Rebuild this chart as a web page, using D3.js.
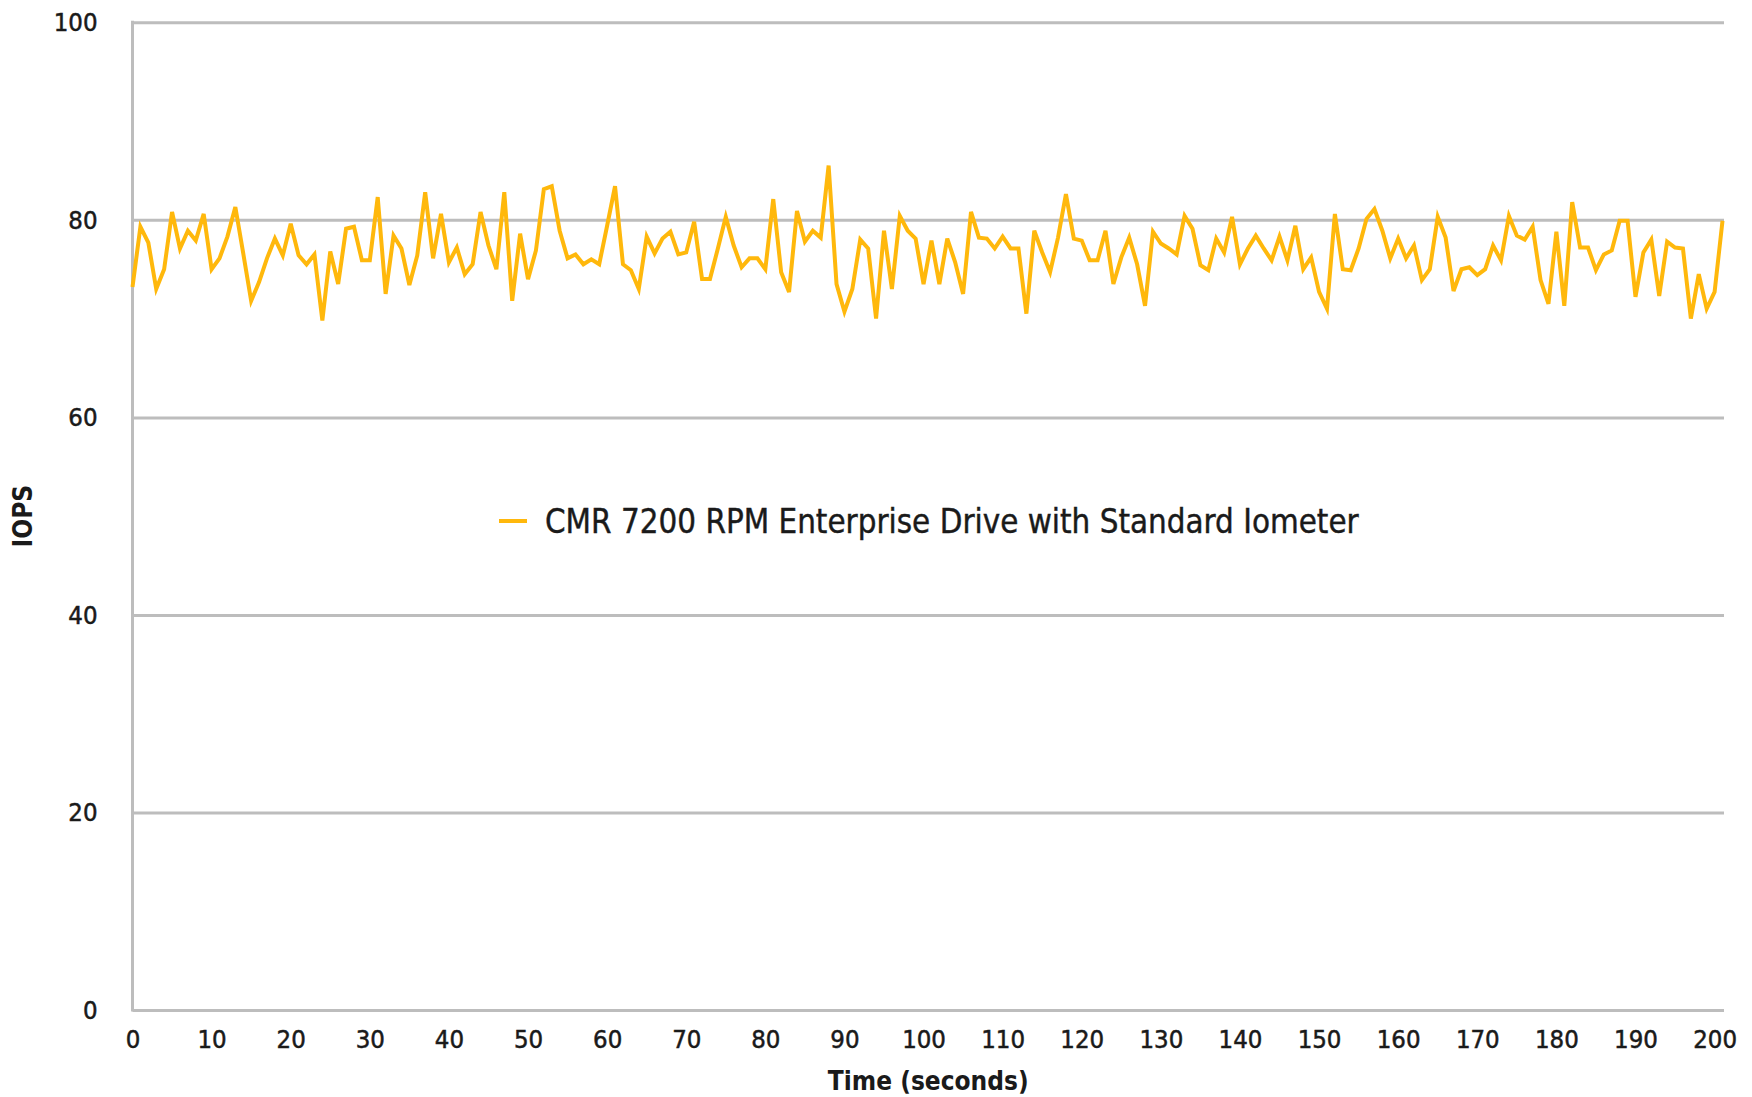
<!DOCTYPE html>
<html>
<head>
<meta charset="utf-8">
<script src="https://cdn.jsdelivr.net/npm/d3@7"></script>
<style>
  html, body { margin: 0; padding: 0; background: #ffffff; }
  svg { display: block; }
  text { font-family: "DejaVu Sans Condensed", "DejaVu Sans", "Liberation Sans Narrow", sans-serif; font-stretch: condensed; fill: #1a1a1a; }
</style>
</head>
<body>
<svg id="chart" width="1752" height="1097"></svg>
<script>
// ---- data ----
const seriesName = "CMR 7200 RPM Enterprise Drive with Standard Iometer";
const iops = [
  73.2, 79.3, 77.7, 73.0, 75.0, 80.8, 77.1, 78.9, 77.9, 80.6,
  75.0, 76.1, 78.3, 81.3, 76.6, 71.8, 73.7, 76.1, 78.1, 76.4,
  79.6, 76.4, 75.5, 76.5, 69.8, 76.8, 73.5, 79.1, 79.3, 75.9,
  75.9, 82.3, 72.5, 78.4, 77.1, 73.4, 76.4, 82.8, 76.1, 80.6,
  75.7, 77.2, 74.5, 75.5, 80.8, 77.4, 75.0, 82.8, 71.8, 78.6,
  74.0, 76.9, 83.1, 83.4, 78.9, 76.1, 76.5, 75.5, 76.0, 75.5,
  79.4, 83.4, 75.5, 74.9, 73.0, 78.3, 76.6, 78.1, 78.8, 76.5,
  76.7, 79.8, 74.0, 74.0, 77.1, 80.3, 77.4, 75.2, 76.1, 76.1,
  75.0, 82.1, 74.7, 72.7, 80.9, 77.8, 78.9, 78.2, 85.5, 73.5,
  70.7, 73.0, 78.0, 77.1, 70.0, 78.9, 73.0, 80.4, 78.9, 78.1,
  73.5, 77.9, 73.5, 78.1, 75.7, 72.5, 80.8, 78.2, 78.1, 77.1,
  78.3, 77.1, 77.1, 70.5, 78.9, 76.7, 74.7, 78.2, 82.6, 78.1,
  77.9, 75.9, 75.9, 78.9, 73.5, 76.2, 78.2, 75.5, 71.3, 78.8,
  77.6, 77.1, 76.5, 80.4, 79.1, 75.4, 74.9, 78.1, 76.7, 80.3,
  75.5, 77.1, 78.4, 77.1, 75.9, 78.3, 75.9, 79.4, 75.0, 76.2,
  72.7, 71.0, 80.6, 75.0, 74.9, 77.1, 80.1, 81.1, 78.9, 76.1,
  78.1, 76.1, 77.4, 73.9, 75.0, 80.3, 78.2, 72.8, 75.0, 75.2,
  74.4, 75.0, 77.4, 75.9, 80.4, 78.4, 78.0, 79.3, 73.9, 71.5,
  78.8, 71.3, 81.8, 77.2, 77.2, 74.9, 76.5, 76.9, 79.9, 79.9,
  72.2, 76.7, 78.0, 72.3, 77.8, 77.2, 77.1, 70.0, 74.5, 71.0,
  72.7, 79.9
];
const xTicks = [0,10,20,30,40,50,60,70,80,90,100,110,120,130,140,150,160,170,180,190,200];
const yTicks = [0,20,40,60,80,100];
const xTitle = "Time (seconds)";
const yTitle = "IOPS";

// ---- layout ----
const svg = d3.select("#chart");
const plotLeft = 132.5, plotRight = 1724, plotTop = 22.3, plotBottom = 1010;
const lastX = 1722.5;

const x = d3.scaleLinear().domain([0, iops.length - 1]).range([plotLeft, lastX]);
const y = d3.scaleLinear().domain([0, 100]).range([plotBottom, plotTop]);

const gridColor = "#bdbdbd";
const lineColor = "#FFB80C";

// y axis with gridlines
const yAxis = svg.append("g")
  .attr("transform", `translate(${plotLeft},0)`)
  .call(d3.axisLeft(y).tickValues(yTicks).tickSize(-(plotRight - plotLeft)).tickPadding(35).tickFormat(d3.format("d")));
yAxis.select(".domain").remove();
yAxis.selectAll(".tick line").attr("stroke", gridColor).attr("stroke-width", 3);
yAxis.selectAll(".tick text").attr("font-size", 25.5).attr("fill", "#1a1a1a")
  .attr("stroke", "#1a1a1a").attr("stroke-width", 0.5);

// left axis line
svg.append("line")
  .attr("x1", plotLeft).attr("x2", plotLeft)
  .attr("y1", plotTop - 1.5).attr("y2", plotBottom + 1.5)
  .attr("stroke", gridColor).attr("stroke-width", 3);

// x axis
const xAxis = svg.append("g")
  .attr("transform", `translate(0,${plotBottom})`)
  .call(d3.axisBottom(x).tickValues(xTicks).tickSize(0).tickPadding(20).tickFormat(d3.format("d")));
xAxis.select(".domain").remove();
xAxis.selectAll(".tick text").attr("font-size", 25.5).attr("fill", "#1a1a1a")
  .attr("stroke", "#1a1a1a").attr("stroke-width", 0.5);

// line
const line = d3.line().x((d, i) => x(i)).y(d => y(d));
svg.append("path")
  .datum(iops)
  .attr("d", line)
  .attr("fill", "none")
  .attr("stroke", lineColor)
  .attr("stroke-width", 4)
  .attr("stroke-linejoin", "miter");

// axis titles
svg.append("text")
  .attr("x", (plotLeft + plotRight) / 2)
  .attr("y", 1090)
  .attr("text-anchor", "middle")
  .attr("font-size", 26)
  .attr("font-weight", "bold")
  .text(xTitle);

svg.append("text")
  .attr("transform", `translate(32,${(plotTop + plotBottom) / 2}) rotate(-90)`)
  .attr("text-anchor", "middle")
  .attr("font-size", 26)
  .attr("font-weight", "bold")
  .text(yTitle);

// legend
const legend = svg.append("g");
legend.append("line")
  .attr("x1", 499).attr("x2", 527)
  .attr("y1", 521).attr("y2", 521)
  .attr("stroke", lineColor).attr("stroke-width", 4);
legend.append("text")
  .attr("x", 545).attr("y", 533)
  .attr("font-size", 32.8)
  .attr("stroke", "#1a1a1a").attr("stroke-width", 0.4)
  .text(seriesName);
</script>
</body>
</html>
